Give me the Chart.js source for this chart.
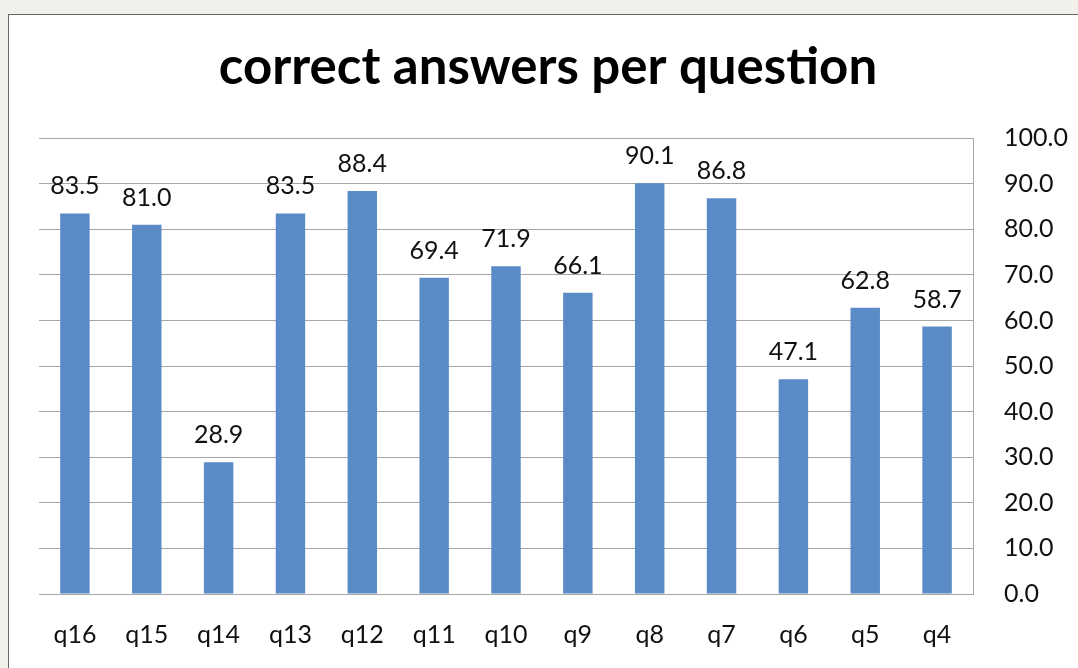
<!DOCTYPE html>
<html>
<head>
<meta charset="utf-8">
<script src="https://cdn.jsdelivr.net/npm/chart.js@4"></script>
<style>
  html, body { margin: 0; padding: 0; background: #f1f1ec; overflow: hidden; }
  #frame { position: absolute; left: 8px; top: 14px; width: 1100px; height: 700px; border: 1px solid #666; background: #fff; }
  #chart { position: absolute; left: 0; top: 0; }
</style>
</head>
<body>
<div id="frame"></div>
<canvas id="chart" width="1078" height="668"></canvas>
<script>
// dados do gráfico
const questions = ['q16', 'q15', 'q14', 'q13', 'q12', 'q11', 'q10', 'q9', 'q8', 'q7', 'q6', 'q5', 'q4'];
const correctPct = [83.5, 81.0, 28.9, 83.5, 88.4, 69.4, 71.9, 66.1, 90.1, 86.8, 47.1, 62.8, 58.7];

const fontFamily = 'Lato, "Open Sans", sans-serif';

// rótulos de valor acima das barras
const valueLabels = {
    id: 'valueLabels',
    afterDatasetsDraw(chart) {
        const ctx = chart.ctx;
        const meta = chart.getDatasetMeta(0);
        ctx.save();
        ctx.font = '25px ' + fontFamily;
        ctx.fillStyle = '#111';
        ctx.textAlign = 'center';
        ctx.textBaseline = 'middle';
        meta.data.forEach((bar, i) => {
            ctx.fillText(correctPct[i].toFixed(1), bar.x, bar.y - 27);
        });
        ctx.restore();
    }
};

new Chart(document.getElementById('chart'), {
    type: 'bar',
    data: {
        labels: questions,
        datasets: [{
            data: correctPct,
            backgroundColor: '#5b8bc6',
            categoryPercentage: 1,
            barPercentage: 0.41
        }]
    },
    options: {
        responsive: false,
        animation: false,
        layout: { padding: { left: 18, right: 0, top: 37, bottom: 0 } },
        plugins: {
            legend: { display: false },
            tooltip: { enabled: false },
            title: {
                display: true,
                text: 'correct answers per question',
                color: '#000',
                font: { family: fontFamily, size: 51, weight: 'bold' },
                padding: { top: 0, bottom: 40 }
            }
        },
        scales: {
            x: {
                grid: { display: false },
                border: { display: true, color: '#a6a6a6' },
                ticks: { color: '#111', padding: 18, font: { family: fontFamily, size: 25 } },
                afterFit(scale) { scale.height = 74; }
            },
            y: {
                position: 'right',
                min: 0,
                max: 100,
                grid: { color: '#a6a6a6', drawTicks: false },
                border: { display: true, color: '#a6a6a6' },
                ticks: {
                    stepSize: 10,
                    color: '#111',
                    padding: 31,
                    font: { family: fontFamily, size: 25 },
                    callback: v => v.toFixed(1)
                },
                afterFit(scale) { scale.width = 105; }
            },
            // eixo vazio só para reservar espaço à esquerda
            yLeft: {
                position: 'left',
                min: 0,
                max: 100,
                grid: { display: false },
                border: { display: false },
                ticks: { display: false },
                afterFit(scale) { scale.width = 21; }
            }
        }
    },
    plugins: [valueLabels]
});
</script>
</body>
</html>
